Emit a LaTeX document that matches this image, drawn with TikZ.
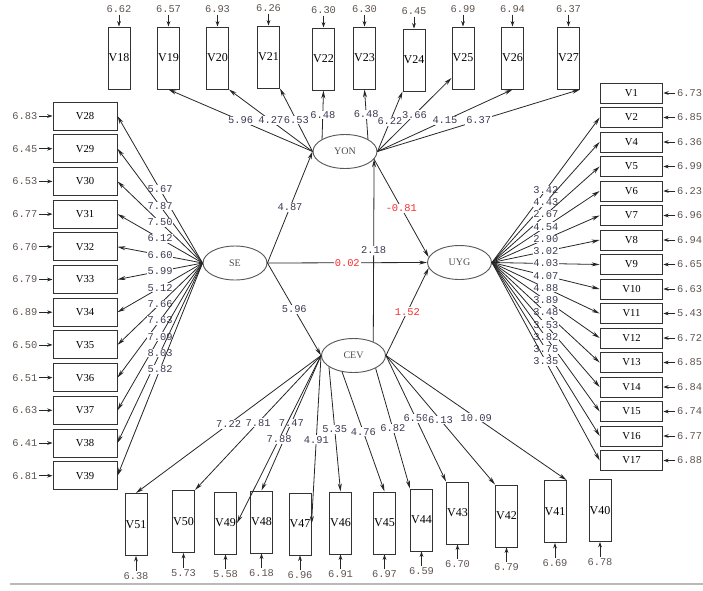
\documentclass[tikz,border=0pt]{standalone}
\usepackage{fontspec}
\setmainfont{Liberation Serif}
\newfontfamily\numfont{Liberation Mono}
\usepackage{tikz}
\usetikzlibrary{arrows.meta,shapes.geometric,positioning}
\definecolor{labcol}{RGB}{60,60,85}
\definecolor{errcol}{RGB}{95,85,80}
\definecolor{redlab}{RGB}{250,45,45}
\newcommand{\numsize}{\numfont\fontsize{7.8}{8}\selectfont}
\newcommand{\boxsize}{\fontsize{8}{9}\selectfont}
\newcommand{\tallsize}{\fontsize{9}{10}\selectfont}
\newcommand{\latsize}{\fontsize{7.5}{8}\selectfont}

\begin{document}
\begin{tikzpicture}[->,>={Stealth[length=6pt,width=3pt]},x=0.75pt,y=-0.75pt,node distance=9pt,semithick,draw=black!85]
\tikzstyle{obs}=[draw=black!80,line width=0.75pt,fill=white,inner sep=0pt]
\tikzstyle{tall}=[obs,minimum width=16.5pt,minimum height=46.5pt,font=\tallsize]
\tikzstyle{wideL}=[obs,minimum width=48pt,minimum height=21pt,font=\boxsize]
\tikzstyle{wideR}=[obs,minimum width=47pt,minimum height=15pt,font=\boxsize]
\tikzstyle{lat}=[ellipse,draw=black!65,line width=0.7pt,minimum width=48pt,minimum height=25.5pt,inner sep=0pt,font=\latsize,text=black!70]
\tikzstyle{lab}=[fill=white,inner sep=0.6pt,font=\numsize,text=labcol]
\tikzstyle{redlab}=[lab,text=redlab]
\tikzstyle{err}=[inner sep=1pt,font=\numsize,text=errcol]
\tikzstyle{erra}=[-{Stealth[length=4pt,width=2.8pt]}]
\useasboundingbox (0,0) rectangle (703,590);

% latent variables
\node[lat] (SE)  at (235,263)     {SE};
\node[lat] (YON) at (345,151.5)   {YON};
\node[lat] (UYG) at (459.5,262.5) {UYG};
\node[lat] (CEV) at (353.5,355.5) {CEV};

% YON indicators (top)
\node[tall] (V18) at (119,58)   {V18};
\node[tall] (V19) at (168.5,58) {V19};
\node[tall] (V20) at (217.5,58) {V20};
\node[tall] (V21) at (268.5,57) {V21};
\node[tall] (V22) at (323.5,59) {V22};
\node[tall] (V23) at (364.5,58) {V23};
\node[tall] (V24) at (414,60)   {V24};
\node[tall] (V25) at (463,58)   {V25};
\node[tall] (V26) at (512.5,58) {V26};
\node[tall] (V27) at (568.5,58) {V27};

% UYG indicators (right)
\node[wideR] (V1)  at (631.5,93)    {V1};
\node[wideR] (V2)  at (631.5,117.5) {V2};
\node[wideR] (V4)  at (631.5,142)   {V4};
\node[wideR] (V5)  at (631.5,166.5) {V5};
\node[wideR] (V6)  at (631.5,191)   {V6};
\node[wideR] (V7)  at (631.5,215.5) {V7};
\node[wideR] (V8)  at (631.5,240)   {V8};
\node[wideR] (V9)  at (631.5,264.5) {V9};
\node[wideR] (V10) at (631.5,289)   {V10};
\node[wideR] (V11) at (631.5,313.5) {V11};
\node[wideR] (V12) at (631.5,338)   {V12};
\node[wideR] (V13) at (631.5,362.5) {V13};
\node[wideR] (V14) at (631.5,387)   {V14};
\node[wideR] (V15) at (631.5,411.5) {V15};
\node[wideR] (V16) at (631.5,436)   {V16};
\node[wideR] (V17) at (631.5,460.5) {V17};

% SE indicators (left)
\node[wideL] (V28) at (85,116)   {V28};
\node[wideL] (V29) at (85,148.7) {V29};
\node[wideL] (V30) at (85,181.4) {V30};
\node[wideL] (V31) at (85,214.1) {V31};
\node[wideL] (V32) at (85,246.8) {V32};
\node[wideL] (V33) at (85,279.5) {V33};
\node[wideL] (V34) at (85,312.2) {V34};
\node[wideL] (V35) at (85,344.9) {V35};
\node[wideL] (V36) at (85,377.6) {V36};
\node[wideL] (V37) at (85,410.3) {V37};
\node[wideL] (V38) at (85,443)   {V38};
\node[wideL] (V39) at (85,475.7) {V39};

% CEV indicators (bottom)
\node[tall] (V51) at (136,524.5)   {V51};
\node[tall] (V50) at (183.5,521.5) {V50};
\node[tall] (V49) at (225.5,523)   {V49};
\node[tall] (V48) at (261.5,522)   {V48};
\node[tall] (V47) at (300,524)     {V47};
\node[tall] (V46) at (340.5,523)   {V46};
\node[tall] (V45) at (384.5,523)   {V45};
\node[tall] (V44) at (421.5,520)   {V44};
\node[tall] (V43) at (457.5,513)   {V43};
\node[tall] (V42) at (506.5,516)   {V42};
\node[tall] (V41) at (555,511.5)   {V41};
\node[tall] (V40) at (600,510.5)   {V40};

% error terms
\node[err] (e18) [above=of V18] {6.62};
\node[err] (e19) [above=of V19] {6.57};
\node[err] (e20) [above=of V20] {6.93};
\node[err] (e21) [above=of V21] {6.26};
\node[err] (e22) [above=of V22] {6.30};
\node[err] (e23) [above=of V23] {6.30};
\node[err] (e24) [above=of V24] {6.45};
\node[err] (e25) [above=of V25] {6.99};
\node[err] (e26) [above=of V26] {6.94};
\node[err] (e27) [above=of V27] {6.37};
\node[err] (e1)  [right=of V1]  {6.73};
\node[err] (e2)  [right=of V2]  {6.85};
\node[err] (e4)  [right=of V4]  {6.36};
\node[err] (e5)  [right=of V5]  {6.99};
\node[err] (e6)  [right=of V6]  {6.23};
\node[err] (e7)  [right=of V7]  {6.96};
\node[err] (e8)  [right=of V8]  {6.94};
\node[err] (e9)  [right=of V9]  {6.65};
\node[err] (e10) [right=of V10] {6.63};
\node[err] (e11) [right=of V11] {5.43};
\node[err] (e12) [right=of V12] {6.72};
\node[err] (e13) [right=of V13] {6.85};
\node[err] (e14) [right=of V14] {6.84};
\node[err] (e15) [right=of V15] {6.74};
\node[err] (e16) [right=of V16] {6.77};
\node[err] (e17) [right=of V17] {6.88};
\node[err] (e28) [left=10pt of V28] {6.83};
\node[err] (e29) [left=10pt of V29] {6.45};
\node[err] (e30) [left=10pt of V30] {6.53};
\node[err] (e31) [left=10pt of V31] {6.77};
\node[err] (e32) [left=10pt of V32] {6.70};
\node[err] (e33) [left=10pt of V33] {6.79};
\node[err] (e34) [left=10pt of V34] {6.89};
\node[err] (e35) [left=10pt of V35] {6.50};
\node[err] (e36) [left=10pt of V36] {6.51};
\node[err] (e37) [left=10pt of V37] {6.63};
\node[err] (e38) [left=10pt of V38] {6.41};
\node[err] (e39) [left=10pt of V39] {6.81};
\node[err] (e51) [below=11pt of V51] {6.38};
\node[err] (e50) [below=11pt of V50] {5.73};
\node[err] (e49) [below=11pt of V49] {5.58};
\node[err] (e48) [below=11pt of V48] {6.18};
\node[err] (e47) [below=11pt of V47] {6.96};
\node[err] (e46) [below=11pt of V46] {6.91};
\node[err] (e45) [below=11pt of V45] {6.97};
\node[err] (e44) [below=11pt of V44] {6.59};
\node[err] (e43) [below=11pt of V43] {6.70};
\node[err] (e42) [below=11pt of V42] {6.79};
\node[err] (e41) [below=11pt of V41] {6.69};
\node[err] (e40) [below=11pt of V40] {6.78};

\path[erra] (e18) edge (V18) (e19) edge (V19) (e20) edge (V20) (e21) edge (V21)
(e22) edge (V22) (e23) edge (V23) (e24) edge (V24) (e25) edge (V25)
(e26) edge (V26) (e27) edge (V27)
(e1) edge (V1) (e2) edge (V2) (e4) edge (V4) (e5) edge (V5) (e6) edge (V6)
(e7) edge (V7) (e8) edge (V8) (e9) edge (V9) (e10) edge (V10) (e11) edge (V11)
(e12) edge (V12) (e13) edge (V13) (e14) edge (V14) (e15) edge (V15)
(e16) edge (V16) (e17) edge (V17)
(e28) edge (V28) (e29) edge (V29) (e30) edge (V30) (e31) edge (V31)
(e32) edge (V32) (e33) edge (V33) (e34) edge (V34) (e35) edge (V35)
(e36) edge (V36) (e37) edge (V37) (e38) edge (V38) (e39) edge (V39)
(e51) edge (V51) (e50) edge (V50) (e49) edge (V49) (e48) edge (V48)
(e47) edge (V47) (e46) edge (V46) (e45) edge (V45) (e44) edge (V44)
(e43) edge (V43) (e42) edge (V42) (e41) edge (V41) (e40) edge (V40);

% loadings
\path (YON.west) edge node[lab] {5.96} (V19.south)
edge node[lab] {4.27} (V20.south east)
edge node[lab] {6.53} (V21.south east)
(YON.north west) edge node[lab] {6.48} (V22.south)
(YON.north east) edge node[lab] {6.48} (V23.south)
(YON.east) edge node[lab] {6.22} (V24.south west)
edge node[lab] {3.66} (V25.240)
edge node[lab] {4.15} (V26.south)
edge node[lab] {6.37} (V27.south east);
\path (SE.west) edge node[lab] {5.67} (V28.east)
edge node[lab] {7.87} (V29.east)
edge node[lab] {7.50} (V30.east)
edge node[lab] {6.12} (V31.east)
edge node[lab] {6.60} (V32.east)
edge node[lab] {5.99} (V33.east)
edge node[lab] {5.12} (V34.east)
edge node[lab] {7.66} (V35.east)
edge node[lab] {7.63} (V36.east)
edge node[lab] {7.09} (V37.east)
edge node[lab] {8.03} (V38.east)
edge node[lab] {5.82} (V39.east);
\path (UYG.east) edge node[lab] {3.42} (V2.west)
edge node[lab] {4.43} (V4.west)
edge node[lab] {2.67} (V5.west)
edge node[lab] {4.54} (V6.west)
edge node[lab] {2.90} (V7.west)
edge node[lab] {3.02} (V8.west)
edge node[lab] {4.03} (V9.west)
edge node[lab] {4.07} (V10.west)
edge node[lab] {4.88} (V11.west)
edge node[lab] {3.89} (V12.west)
edge node[lab] {3.48} (V13.west)
edge node[lab] {3.53} (V14.west)
edge node[lab] {3.82} (V15.west)
edge node[lab] {3.75} (V16.west)
edge node[lab] {3.35} (V17.west);
\path (CEV.west) edge node[lab] {7.22} (V51.north)
edge node[lab] {7.81} (V50.north east)
edge node[lab] {7.47} (V48.north)
edge node[lab] {7.88} (V49.east)
edge node[lab] {4.91} (V47.east)
(CEV.205) edge node[lab] {5.35} (V46.north)
(CEV.235) edge node[lab] {4.76} (V45.north)
(CEV.-30) edge node[lab] {6.82} (V44.north west)
(CEV.east) edge node[lab] {6.50} (V43.north west)
edge node[lab] {6.13} (V42.north west)
edge node[lab] {10.09} (V41.north east);

% structural paths
\path (SE.east) edge node[lab] {4.87} (YON.west)
edge node[lab] {5.96} (CEV.west)
edge node[redlab] {0.02} (UYG.west)
(YON.-15) edge node[redlab] {-0.81} (UYG.170)
(CEV.east) edge node[redlab] {1.52} (UYG.190)
(CEV.35) edge node[lab] {2.18} (YON.-15);

\draw[-,gray!55,line width=1.2pt] (10,584) -- (703,584);
\end{tikzpicture}
\end{document}
